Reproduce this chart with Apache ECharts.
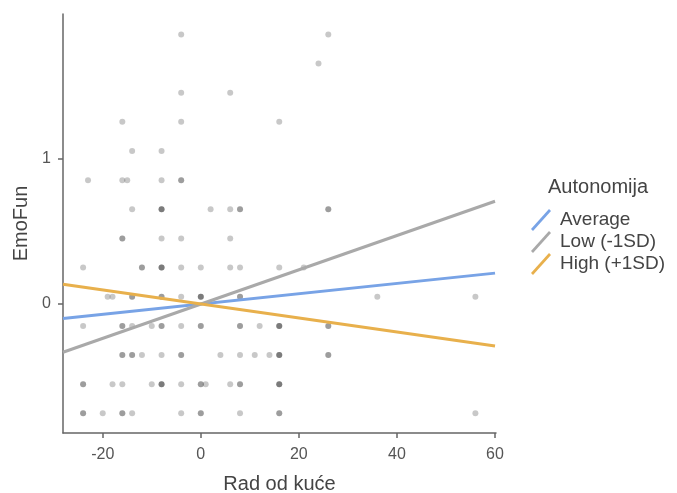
<!DOCTYPE html>
<html>
<head>
<meta charset="utf-8">
<script src="https://cdn.jsdelivr.net/npm/echarts@6/dist/echarts.min.js"></script>
<style>html,body{margin:0;padding:0;background:#fff;}#c{width:677px;height:493px;}</style>
</head>
<body>
<div id="c"></div>
<script>
// Scatter points: x value, y value, count of overlapping observations
const ptX = [-4,26, 24, -4,6, -16,-4,16, -14,-8,
  -23,-16,-15,-8,-4,
  -14,-8,2,6,8,26,
  -16,-8,-4,6,
  -24,-12,-8,-4,0,6,8,16,21,
  -19,-18,-14,-8,-4,0,8,36,56,
  -24,-16,-14,-10,-8,-4,0,8,12,16,26,
  -16,-14,-12,-8,-4,4,8,11,14,16,26,
  -24,-18,-16,-10,-8,-4,0,1,6,8,16,
  -24,-20,-16,-14,-4,0,8,16,56];
const ptY = [1.85,1.85, 1.65, 1.45,1.45, 1.25,1.25,1.25, 1.05,1.05,
  0.85,0.85,0.85,0.85,0.85,
  0.65,0.65,0.65,0.65,0.65,0.65,
  0.45,0.45,0.45,0.45,
  0.25,0.25,0.25,0.25,0.25,0.25,0.25,0.25,0.25,
  0.05,0.05,0.05,0.05,0.05,0.05,0.05,0.05,0.05,
  -0.15,-0.15,-0.15,-0.15,-0.15,-0.15,-0.15,-0.15,-0.15,-0.15,-0.15,
  -0.35,-0.35,-0.35,-0.35,-0.35,-0.35,-0.35,-0.35,-0.35,-0.35,-0.35,
  -0.55,-0.55,-0.55,-0.55,-0.55,-0.55,-0.55,-0.55,-0.55,-0.55,-0.55,
  -0.75,-0.75,-0.75,-0.75,-0.75,-0.75,-0.75,-0.75,-0.75];
const ptN = [1,1, 1, 1,1, 1,1,1, 1,1,
  1,1,1,1,2,
  1,3,1,1,2,2,
  2,1,1,1,
  1,2,3,1,1,1,1,1,1,
  1,1,2,2,1,3,2,1,1,
  1,2,1,1,2,1,2,2,1,3,2,
  2,2,1,1,2,1,1,1,1,3,2,
  2,1,1,1,3,1,2,1,1,2,3,
  2,1,2,1,1,2,1,2,1];

// Simple slopes lines (endpoints at x range)
const lineX = [-28.1, 60];
const avgY = [-0.099, 0.212];
const lowY = [-0.331, 0.705];
const highY = [0.135, -0.288];

const seriesNames = ['Average', 'Low (-1SD)', 'High (+1SD)'];
const seriesColors = ['#78a3e6', '#a9a9a9', '#e8b04c'];
const xTicks = [-20, 0, 20, 40, 60];
const yTicks = [0, 1];

const scatterData = [];
for (let i = 0; i < ptX.length; i++) {
  for (let k = 0; k < ptN[i]; k++) scatterData.push([ptX[i], ptY[i]]);
}
const toLine = ys => lineX.map((x, i) => [x, ys[i]]);

const font = 'Liberation Sans, Arial, sans-serif';
const chart = echarts.init(document.getElementById('c'));
const icon = 'path://M0,20 L18,0 L20,2 L2,22 Z';
chart.setOption({
  animation: false,
  backgroundColor: '#fff',
  grid: { left: 63, top: 14, right: 181, bottom: 60, containLabel: false, outerBoundsMode: 'none' },
  xAxis: {
    type: 'value', min: -28.1, max: 60.2,
    name: 'Rad od kuće', nameLocation: 'middle', nameGap: 41,
    nameTextStyle: { fontSize: 20, color: '#444', fontFamily: font },
    splitLine: { show: false },
    axisLine: { show: true, onZero: false, lineStyle: { color: '#666', width: 1.5 } },
    axisTick: { show: true, length: 5, lineStyle: { color: '#666', width: 1.5 }, customValues: xTicks },
    axisLabel: { fontSize: 16, color: '#555', fontFamily: font, margin: 14, customValues: xTicks }
  },
  yAxis: {
    type: 'value', min: -0.885, max: 1.99,
    name: 'EmoFun', nameLocation: 'middle', nameGap: 28,
    nameTextStyle: { fontSize: 20, color: '#444', fontFamily: font },
    splitLine: { show: false },
    axisLine: { show: true, onZero: false, lineStyle: { color: '#666', width: 1.5 } },
    axisTick: { show: true, length: 5, lineStyle: { color: '#666', width: 1.5 }, customValues: yTicks },
    axisLabel: { fontSize: 16, color: '#555', fontFamily: font, margin: 12, customValues: yTicks }
  },
  legend: {
    orient: 'vertical', left: 526, top: 204, itemGap: 0,
    itemWidth: 20, itemHeight: 22,
    textStyle: { fontSize: 19, color: '#444', fontFamily: font, padding: [0, 0, 0, 4] },
    data: seriesNames.map(n => ({ name: n, icon: icon }))
  },
  graphic: [{
    type: 'text', left: 548, top: 177,
    style: { text: 'Autonomija', font: '20px ' + font, fill: '#444' }
  }],
  series: [
    { type: 'scatter', name: 'pts', data: scatterData, symbolSize: 6,
      itemStyle: { color: 'rgba(0,0,0,0.27)' }, silent: true, z: 1 },
    ...seriesNames.map((n, i) => ({
      type: 'line', name: n, data: toLine([avgY, lowY, highY][i]),
      showSymbol: false, symbol: 'none', z: 3,
      lineStyle: { color: seriesColors[i], width: 3 },
      itemStyle: { color: seriesColors[i] }
    }))
  ]
});
</script>
</body>
</html>
